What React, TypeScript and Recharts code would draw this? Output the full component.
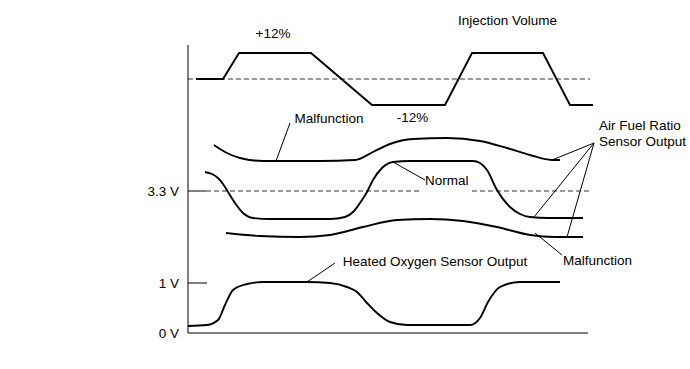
import {
  ComposedChart,
  Line,
  XAxis,
  YAxis,
  ReferenceLine,
  ReferenceDot,
} from 'recharts';

// diagram units: x = time (0..410), y = signal level (0..288)
const injectionX = [8, 35, 51, 123, 184, 257, 284, 355, 382, 405];
const injectionY = [254, 254, 280, 280, 228, 228, 280, 280, 228, 228];

const afrHighX = [26, 37, 52, 75, 132, 167, 185, 202, 225, 259, 292, 319, 342, 364, 372];
const afrHighY = [188, 181, 175, 172, 172, 173, 181, 189, 194, 195, 192, 185, 178, 173, 173];

const afrNormalX = [17, 24, 30, 35, 40, 47, 55, 65, 82, 142, 157, 165, 174, 179, 185, 194, 205, 222, 285, 292, 299, 309, 322, 332, 342, 360, 395];
const afrNormalY = [161, 159, 155, 149, 141, 130, 120, 115, 114, 114, 116, 121, 133, 141, 153, 165, 171, 172, 172, 170, 163, 143, 126, 119, 116, 115, 115];

const afrLowX = [38, 72, 112, 142, 175, 209, 242, 275, 309, 342, 367, 395];
const afrLowY = [100, 97, 96, 98, 106, 113, 114, 112, 106, 98, 96, 96];

const o2X = [0, 19, 30, 37, 45, 59, 75, 119, 142, 159, 169, 179, 189, 202, 219, 282, 292, 300, 312, 332, 372];
const o2Y = [7, 8, 13, 28, 43, 49, 51, 51, 50, 46, 41, 30, 20, 11, 8, 8, 15, 31, 46, 51, 51];

const yTickValues = [0, 50, 142];
const yTickLabels = ['0 V', '1 V', '3.3 V'];

const injectionBase = 254;

const toPoints = (xs: number[], ys: number[]) => xs.map((x, i) => ({ x, y: ys[i] }));

const FONT = '"Liberation Sans", Arial, sans-serif';
const textStyle = { fill: '#000', fontSize: 13.5, fontFamily: FONT };

// [x, y, text, anchor]
const notes: [number, number, string, 'center' | 'right'][] = [
  [85, 300, '+12%', 'center'],
  [319.5, 313, 'Injection Volume', 'center'],
  [224.5, 216, '-12%', 'center'],
  [141, 215, 'Malfunction', 'center'],
  [237, 153, 'Normal', 'right'],
  [411, 208, 'Air Fuel Ratio', 'right'],
  [411, 192, 'Sensor Output', 'right'],
  [409.5, 73, 'Malfunction', 'center'],
  [247, 72, 'Heated Oxygen Sensor Output', 'center'],
];

// leader lines [x1, y1, x2, y2]
const leaders: number[][] = [
  [102, 210, 88, 172],
  [237, 153, 205, 171],
  [406, 190, 364, 173],
  [406, 190, 346, 116],
  [406, 190, 379, 96],
  [374, 78, 347, 100],
  [147, 70, 119, 51],
];

export default function App() {
  const series = [
    { key: 'inj', data: toPoints(injectionX, injectionY), type: 'linear' as const },
    { key: 'afrHigh', data: toPoints(afrHighX, afrHighY), type: 'monotone' as const },
    { key: 'afrNormal', data: toPoints(afrNormalX, afrNormalY), type: 'monotone' as const },
    { key: 'afrLow', data: toPoints(afrLowX, afrLowY), type: 'monotone' as const },
    { key: 'o2', data: toPoints(o2X, o2Y), type: 'monotone' as const },
  ];

  return (
    <div style={{ position: 'absolute', left: 0, top: 0, background: '#fff' }}>
      <ComposedChart
        width={690}
        height={369}
        margin={{ top: 45, right: 92, bottom: 36, left: 128 }}
      >
        <XAxis type="number" dataKey="x" domain={[0, 410]} hide allowDataOverflow />
        <YAxis
          type="number"
          domain={[0, 288]}
          ticks={yTickValues}
          width={60}
          tickSize={0}
          tickMargin={9}
          tickLine={false}
          axisLine={{ stroke: '#000', strokeWidth: 1 }}
          tick={textStyle}
          tickFormatter={(v: number) => yTickLabels[yTickValues.indexOf(v)] ?? ''}
          allowDataOverflow
        />

        {/* bottom axis */}
        <ReferenceLine segment={[{ x: 0, y: 0 }, { x: 400, y: 0 }]} stroke="#000" strokeWidth={1} ifOverflow="visible" />
        {/* 1 V tick */}
        <ReferenceLine segment={[{ x: 0, y: 50 }, { x: 19, y: 50 }]} stroke="#000" strokeWidth={1} />
        {/* 3.3 V tick + dashed level */}
        <ReferenceLine segment={[{ x: 0, y: 142 }, { x: 18, y: 142 }]} stroke="#000" strokeWidth={1} />
        <ReferenceLine segment={[{ x: 18, y: 142 }, { x: 234, y: 142 }]} stroke="#333" strokeDasharray="5 3" />
        <ReferenceLine segment={[{ x: 284, y: 142 }, { x: 402, y: 142 }]} stroke="#333" strokeDasharray="5 3" />
        {/* injection baseline */}
        <ReferenceLine segment={[{ x: 0, y: injectionBase }, { x: 402, y: injectionBase }]} stroke="#333" strokeDasharray="5 3" />

        {leaders.map((l, i) => (
          <ReferenceLine
            key={'ld' + i}
            segment={[{ x: l[0], y: l[1] }, { x: l[2], y: l[3] }]}
            stroke="#000"
            strokeWidth={1}
            ifOverflow="visible"
          />
        ))}

        {series.map((s) => (
          <Line
            key={s.key}
            data={s.data}
            dataKey="y"
            type={s.type}
            stroke="#000"
            strokeWidth={1.9}
            dot={false}
            activeDot={false}
            isAnimationActive={false}
          />
        ))}

        {notes.map(([x, y, text, pos], i) => (
          <ReferenceDot
            key={'n' + i}
            x={x}
            y={y}
            r={0}
            fill="none"
            stroke="none"
            ifOverflow="visible"
            label={{ value: text, position: pos, offset: 0, ...textStyle }}
          />
        ))}
      </ComposedChart>
    </div>
  );
}
